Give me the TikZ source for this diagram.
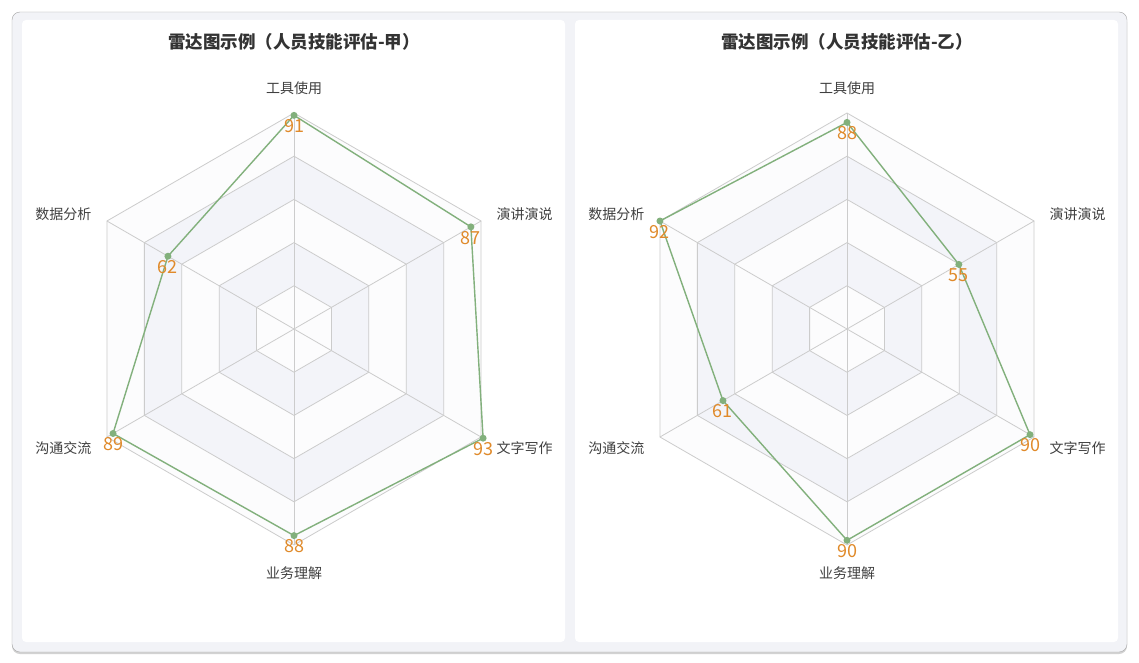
\documentclass[tikz,border=0pt]{standalone}
\usepackage{fontspec}
\setmainfont{Noto Sans CJK SC}
\usetikzlibrary{shadows}
\definecolor{pagebg}{HTML}{F2F3F7}
\definecolor{bandgray}{HTML}{F3F4F9}
\definecolor{bandwhite}{HTML}{FCFCFD}
\definecolor{gridline}{HTML}{CCCCCC}
\definecolor{seriesgreen}{HTML}{82B07C}
\definecolor{valorange}{HTML}{E08A2A}
\tikzset{
  panel/.style={fill=white, rounded corners=4pt},
  ring/.style={draw=gridline, line width=0.8pt},
  series/.style={draw=seriesgreen, line width=1.4pt, line join=round},
  dot/.style={circle, fill=seriesgreen, inner sep=0pt, minimum size=7pt},
  vallabel/.style={text=valorange, font=\fontsize{18}{18}\selectfont, anchor=north, inner sep=1pt},
  axislabel/.style={text=black!75, font=\fontsize{14}{14}\selectfont},
  titlelabel/.style={text=black!80, font=\bfseries\fontsize{17.5}{18}\selectfont}
}
% one radar chart: centre x, title, six values
\newcommand{\radarchart}[8]{%
  \node[titlelabel] (title#1) at (#1,42) {#2};
  % bands
  \foreach \k/\col in {5/bandwhite,4/bandgray,3/bandwhite,2/bandgray,1/bandwhite}{
    \fill[\col] ({#1+43.2*\k*cos(90)},{329-43.2*\k*sin(90)})
      \foreach \a in {30,-30,-90,-150,150}{ -- ({#1+43.2*\k*cos(\a)},{329-43.2*\k*sin(\a)}) } -- cycle;
  }
  \foreach \k in {1,...,5}{
    \draw[ring] ({#1+43.2*\k*cos(90)},{329-43.2*\k*sin(90)})
      \foreach \a in {30,-30,-90,-150,150}{ -- ({#1+43.2*\k*cos(\a)},{329-43.2*\k*sin(\a)}) } -- cycle;
  }
  \foreach \a in {90,30,-30,-90,-150,150}
    \draw[ring] (#1,329) -- ({#1+216*cos(\a)},{329-216*sin(\a)});
  % axis labels
  \node[axislabel, anchor=south] (tool#1) at (#1,98) {工具使用};
  \node[axislabel, anchor=west] (talk#1) at ({#1+199},214) {演讲演说};
  \node[axislabel, anchor=west] (write#1) at ({#1+199},448) {文字写作};
  \node[axislabel, anchor=north] (biz#1) at (#1,563) {业务理解};
  \node[axislabel, anchor=east] (comm#1) at ({#1-199},448) {沟通交流};
  \node[axislabel, anchor=east] (data#1) at ({#1-199},214) {数据分析};
  % series
  \draw[series]
    ({#1+2.3478*#3*cos(90)},{329-2.3478*#3*sin(90)}) coordinate (p1)
    -- ({#1+2.3478*#4*cos(30)},{329-2.3478*#4*sin(30)}) coordinate (p2)
    -- ({#1+2.3478*#5*cos(-30)},{329-2.3478*#5*sin(-30)}) coordinate (p3)
    -- ({#1+2.3478*#6*cos(-90)},{329-2.3478*#6*sin(-90)}) coordinate (p4)
    -- ({#1+2.3478*#7*cos(-150)},{329-2.3478*#7*sin(-150)}) coordinate (p5)
    -- ({#1+2.3478*#8*cos(150)},{329-2.3478*#8*sin(150)}) coordinate (p6)
    -- cycle;
  \foreach \i/\v in {1/#3,2/#4,3/#5,4/#6,5/#7,6/#8}{
    \node[dot] at (p\i) {};
    \node[vallabel] at ([yshift=-3pt]p\i) {\v};
  }
}

\begin{document}
\begin{tikzpicture}[x=1pt, y=-1pt]
\useasboundingbox (0,0) rectangle (1139,663);
\fill[white] (0,0) rectangle (1139,663);

% frame
\fill[pagebg, rounded corners=8pt, drop shadow={opacity=0.35, shadow xshift=0pt, shadow yshift=-2pt}] (12,12) rectangle (1127,652);
\draw[black!35, rounded corners=8pt] (12,12) rectangle (1127,652);

% panels
\fill[panel] (22,20) rectangle (565,642);
\fill[panel] (575,20) rectangle (1118,642);

\radarchart{294}{雷达图示例（人员技能评估-甲）}{91}{87}{93}{88}{89}{62}
\radarchart{847}{雷达图示例（人员技能评估-乙）}{88}{55}{90}{90}{61}{92}

\end{tikzpicture}
\end{document}
